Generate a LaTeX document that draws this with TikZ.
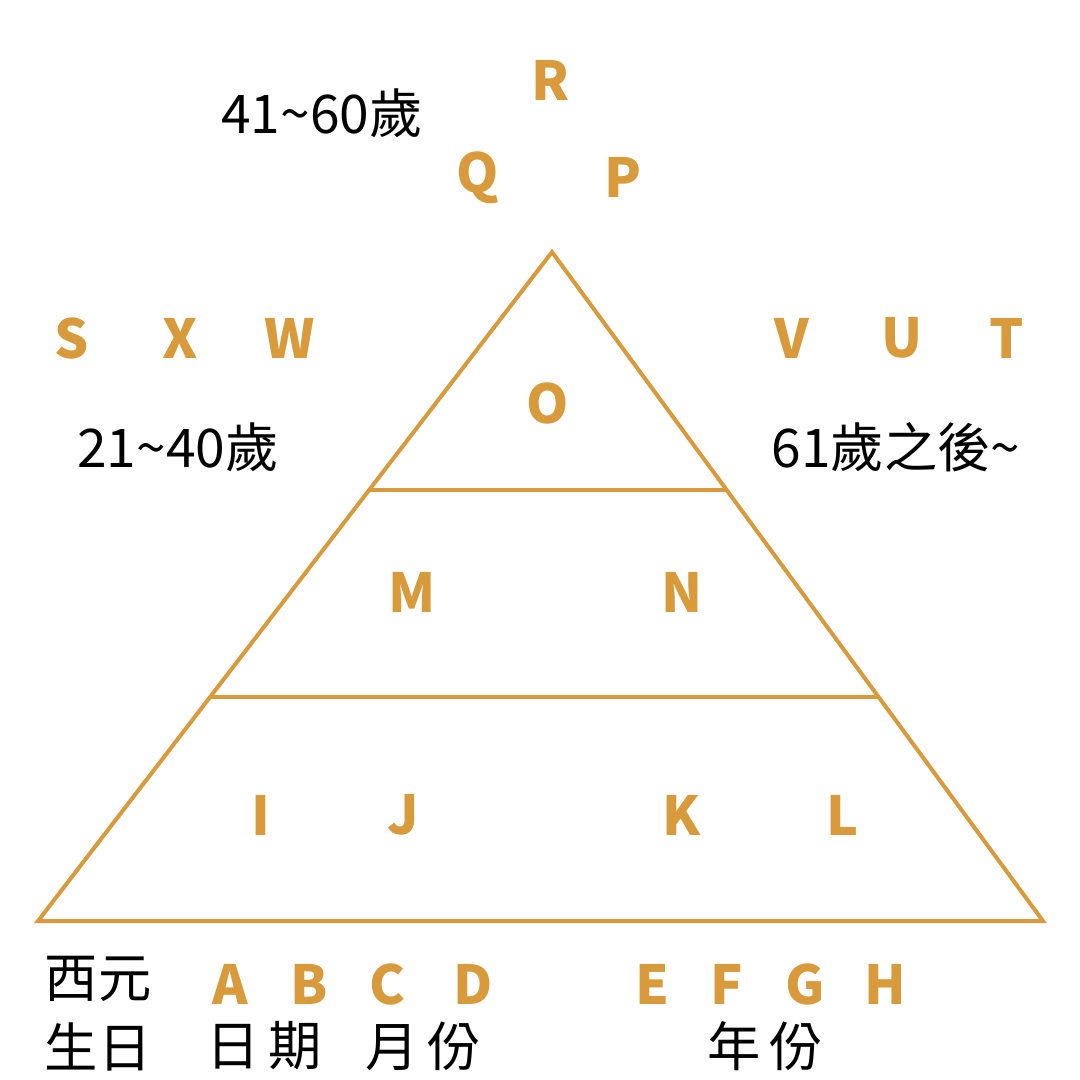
\documentclass[tikz,border=0pt]{standalone}
\usepackage{fontspec}
\setmainfont{Noto Sans CJK TC}
\usepackage{tikz}
\definecolor{pyrgold}{HTML}{D89A3A}

\begin{document}
\begin{tikzpicture}[x=1bp, y=-1bp,
        letter/.style={text=pyrgold, font=\fontsize{54}{60}\selectfont\bfseries, inner sep=0pt},
        label/.style={text=black, font=\fontsize{53.5}{60}\selectfont, inner sep=0pt, align=center},
        edge/.style={draw=pyrgold, line width=4bp, line join=miter}]
        \useasboundingbox (0,0) rectangle (1080,1080);
        %%% pyramid
        \coordinate (top) at (552, 252);
        \coordinate (bl) at (38, 921);
        \coordinate (br) at (1043, 921);
        \draw[edge] (top) -- (br) -- (bl) -- cycle;
        \coordinate (l1) at (370, 490);
        \coordinate (r1) at (726, 490);
        \coordinate (l2) at (211, 697);
        \coordinate (r2) at (878, 697);
        \draw[edge] (l1) -- (r1);
        \draw[edge] (l2) -- (r2);
        %%% letters round the top
        \node[letter] (R) at (551, 80) {R};
        \node[letter] (Q) at (478, 178) {Q};
        \node[letter] (P) at (623, 177) {P};
        \node[letter] (S) at (72, 338) {S};
        \node[letter] (X) at (180, 338) {X};
        \node[letter] (W) at (290, 338) {W};
        \node[letter] (V) at (792, 338) {V};
        \node[letter] (U) at (902, 338) {U};
        \node[letter] (T) at (1007, 338) {T};
        %%% letters inside
        \node[letter] (O) at (548, 403) {O};
        \node[letter] (M) at (412, 592) {M};
        \node[letter] (N) at (682, 592) {N};
        \node[letter] (I) at (261, 815) {I};
        \node[letter] (J) at (403, 815) {J};
        \node[letter] (K) at (682, 815) {K};
        \node[letter] (L) at (843, 815) {L};
        %%% letters below
        \node[letter] (A) at (230, 984) {A};
        \node[letter] (B) at (309, 984) {B};
        \node[letter] (C) at (387, 984) {C};
        \node[letter] (D) at (473, 984) {D};
        \node[letter] (E) at (652, 984) {E};
        \node[letter] (F) at (727, 984) {F};
        \node[letter] (G) at (805, 984) {G};
        \node[letter] (H) at (885, 984) {H};
        %%% ages
        \node[label] (age41) at (322, 113) {41\textasciitilde60歲};
        \node[label] (age21) at (178, 447) {21\textasciitilde40歲};
        \node[label] (age61) at (896, 447) {61歲之後\textasciitilde};
        %%% birthday
        \node[label] (xiyuan) at (98, 979) {西元};
        \node[label] (shengri) at (98, 1047) {生日};
        \node[label] (riqi) at (264, 1046) {日\,期};
        \node[label] (yuefen) at (423, 1046) {月\,份};
        \node[label] (nianfen) at (765, 1046) {年\,份};
\end{tikzpicture}
\end{document}
